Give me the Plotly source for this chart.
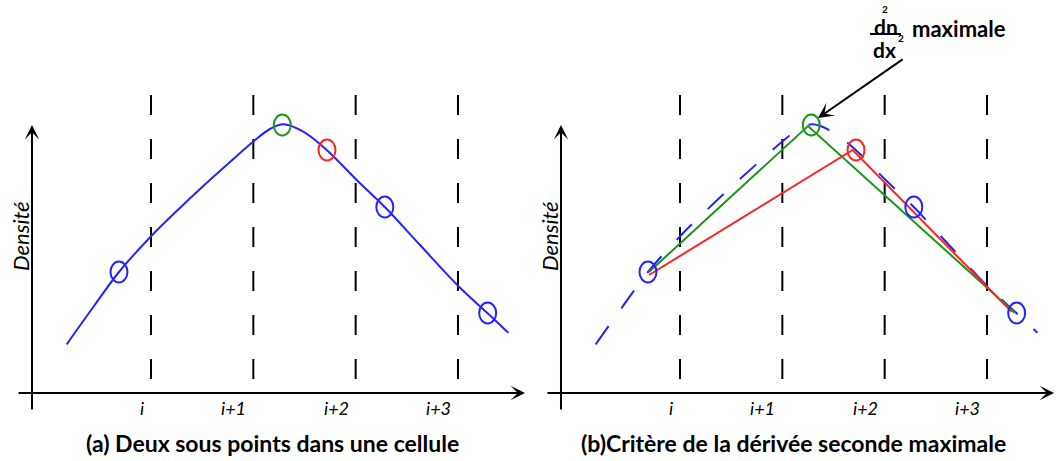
import plotly.graph_objects as go

# ---------------- data ----------------
# density profile (cell units on x, density on y)
curve_x = [0.176, 0.436, 0.687, 1.003, 1.251, 1.511, 1.772, 2.006, 2.163, 2.293,
           2.488, 2.717, 3.010, 3.287, 3.629, 4.010, 4.290, 4.492]
curve_y = [0.487, 0.860, 1.210, 1.57, 1.82, 2.070, 2.310, 2.520, 2.640, 2.687,
           2.613, 2.43, 2.13, 1.857, 1.48, 1.063, 0.797, 0.603]

# sample points (circled)
blue_x = [0.687, 3.285, 4.290]
blue_y = [1.21, 1.86, 0.80]
green_x = [2.283]
green_y = [2.68]
red_x = [2.720]
red_y = [2.43]

# panel (b) polylines
green_line_x = [0.697, 2.251, 4.274]
green_line_y = [1.21, 2.67, 0.80]
red_line_x = [0.697, 2.688, 4.241]
red_line_y = [1.18, 2.43, 0.813]

# cell boundaries and tick labels
cell_x = [1, 2, 3, 4]
cell_top = 2.98
tick_labels = ["i", "i+1", "i+2", "i+3"]

captions = ["(a) Deux sous points dans une cellule", "(b)Critère de la dérivée seconde maximale"]
ylabel = "Densité"

# ---------------- styles ----------------
BLUE = "#2323ff"
GREEN = "#1a961a"
RED = "#ff2222"
FONT = "Lato"
W, H = 1060, 461
XR = [-0.4756, 4.694]
YR = [-0.68, 3.93]
AX_X = -0.163      # y-axis position
AX_XL = -0.309     # x-axis left end
AX_XR = 4.655      # x-axis arrow tip
AX_YB = -0.18      # y-axis bottom end
AX_YT = 2.68       # y-axis arrow tip


def pxx(v):
    return v / W


def pyy(v):
    return 1 - v / H


def ptext(x, y, text, size, **kw):
    fig.add_annotation(x=pxx(x), y=pyy(y), xref="paper", yref="paper", text=text,
                       showarrow=False, xanchor=kw.pop("xanchor", "center"),
                       yanchor=kw.pop("yanchor", "middle"),
                       font=dict(family=FONT, size=size, color="black"), **kw)


fig = go.Figure()

for k, (xa, ya) in enumerate([("x", "y"), ("x2", "y2")]):
    # dashed cell boundaries
    vx, vy = [], []
    for c in cell_x:
        vx += [c, c, None]
        vy += [cell_top, 0, None]
    fig.add_trace(go.Scatter(x=vx, y=vy, mode="lines", xaxis=xa, yaxis=ya,
                             line=dict(color="black", width=2, dash="20px,24px"),
                             hoverinfo="skip", showlegend=False))
    # density curve
    fig.add_trace(go.Scatter(x=curve_x, y=curve_y, mode="lines", xaxis=xa, yaxis=ya,
                             line=dict(color=BLUE, width=2, shape="spline", smoothing=1,
                                       dash="solid" if k == 0 else "22px,22px"),
                             showlegend=False))
    if k == 1:
        fig.add_trace(go.Scatter(x=green_line_x, y=green_line_y, mode="lines", xaxis=xa, yaxis=ya,
                                 line=dict(color=GREEN, width=2), showlegend=False))
        fig.add_trace(go.Scatter(x=red_line_x, y=red_line_y, mode="lines", xaxis=xa, yaxis=ya,
                                 line=dict(color=RED, width=2), showlegend=False))

    # circled sample points (ellipses anchored at data points)
    for xs, ys, col in [(blue_x, blue_y, BLUE), (green_x, green_y, GREEN), (red_x, red_y, RED)]:
        for x0, y0 in zip(xs, ys):
            fig.add_shape(type="circle", xref=xa, yref=ya,
                          xsizemode="pixel", ysizemode="pixel",
                          xanchor=x0, yanchor=y0, x0=-8.5, x1=8.5, y0=-10.5, y1=10.5,
                          line=dict(color=col, width=2))

    # axes with arrows
    fig.add_annotation(x=AX_X, y=AX_YT, ax=AX_X, ay=AX_YB, xref=xa, yref=ya, axref=xa, ayref=ya,
                       text="", showarrow=True, arrowhead=3, arrowsize=1.2, arrowwidth=2,
                       arrowcolor="black")
    fig.add_annotation(x=AX_XR, y=0, ax=AX_XL, ay=0, xref=xa, yref=ya, axref=xa, ayref=ya,
                       text="", showarrow=True, arrowhead=3, arrowsize=1.2, arrowwidth=2,
                       arrowcolor="black")

    # tick labels
    for c, t in zip(cell_x, tick_labels):
        fig.add_annotation(x=c, y=-0.15, xref=xa, yref=ya, text="<i>%s</i>" % t,
                           showarrow=False, xanchor="right", yanchor="middle", xshift=-5,
                           font=dict(family=FONT, size=18, color="black"))

    off = 0 if k == 0 else 529
    # y label
    ptext(20 + off, 236, "<i>%s</i>" % ylabel, 22, textangle=-90)
    # caption
    ptext([272, 793][k], 443, "<b>%s</b>" % captions[k], 23)

# pointer arrow to the maximum second derivative point
fig.add_annotation(x=2.349, y=2.75, ax=3.19, ay=3.347, xref="x2", yref="y2", axref="x2", ayref="y2",
                   text="", showarrow=True, arrowhead=3, arrowsize=1.3, arrowwidth=2, arrowcolor="black")

# d²n/dx² maximale
ptext(886, 26, "<b>dn</b>", 21)
ptext(885, 9, "<b>2</b>", 10)
ptext(884, 49, "<b>dx</b>", 21)
ptext(901, 38, "<b>2</b>", 10)
fig.add_shape(type="line", xref="paper", yref="paper", x0=pxx(870), x1=pxx(901), y0=pyy(34), y1=pyy(34),
              line=dict(color="black", width=2))
ptext(910, 28, "<b>maximale</b>", 22, xanchor="left")

fig.update_layout(
    width=W, height=H, margin=dict(l=0, r=0, t=0, b=0),
    paper_bgcolor="white", plot_bgcolor="white", showlegend=False,
    xaxis=dict(domain=[0, 529 / W], range=XR, visible=False, fixedrange=True),
    xaxis2=dict(domain=[529 / W, 1058 / W], range=XR, visible=False, fixedrange=True),
    yaxis=dict(domain=[0, 1], range=YR, visible=False, fixedrange=True),
    yaxis2=dict(domain=[0, 1], range=YR, visible=False, fixedrange=True, anchor="x2"),
)

fig.write_html("out.html", config={"displayModeBar": False},
               post_script="document.body.style.margin='0';")
